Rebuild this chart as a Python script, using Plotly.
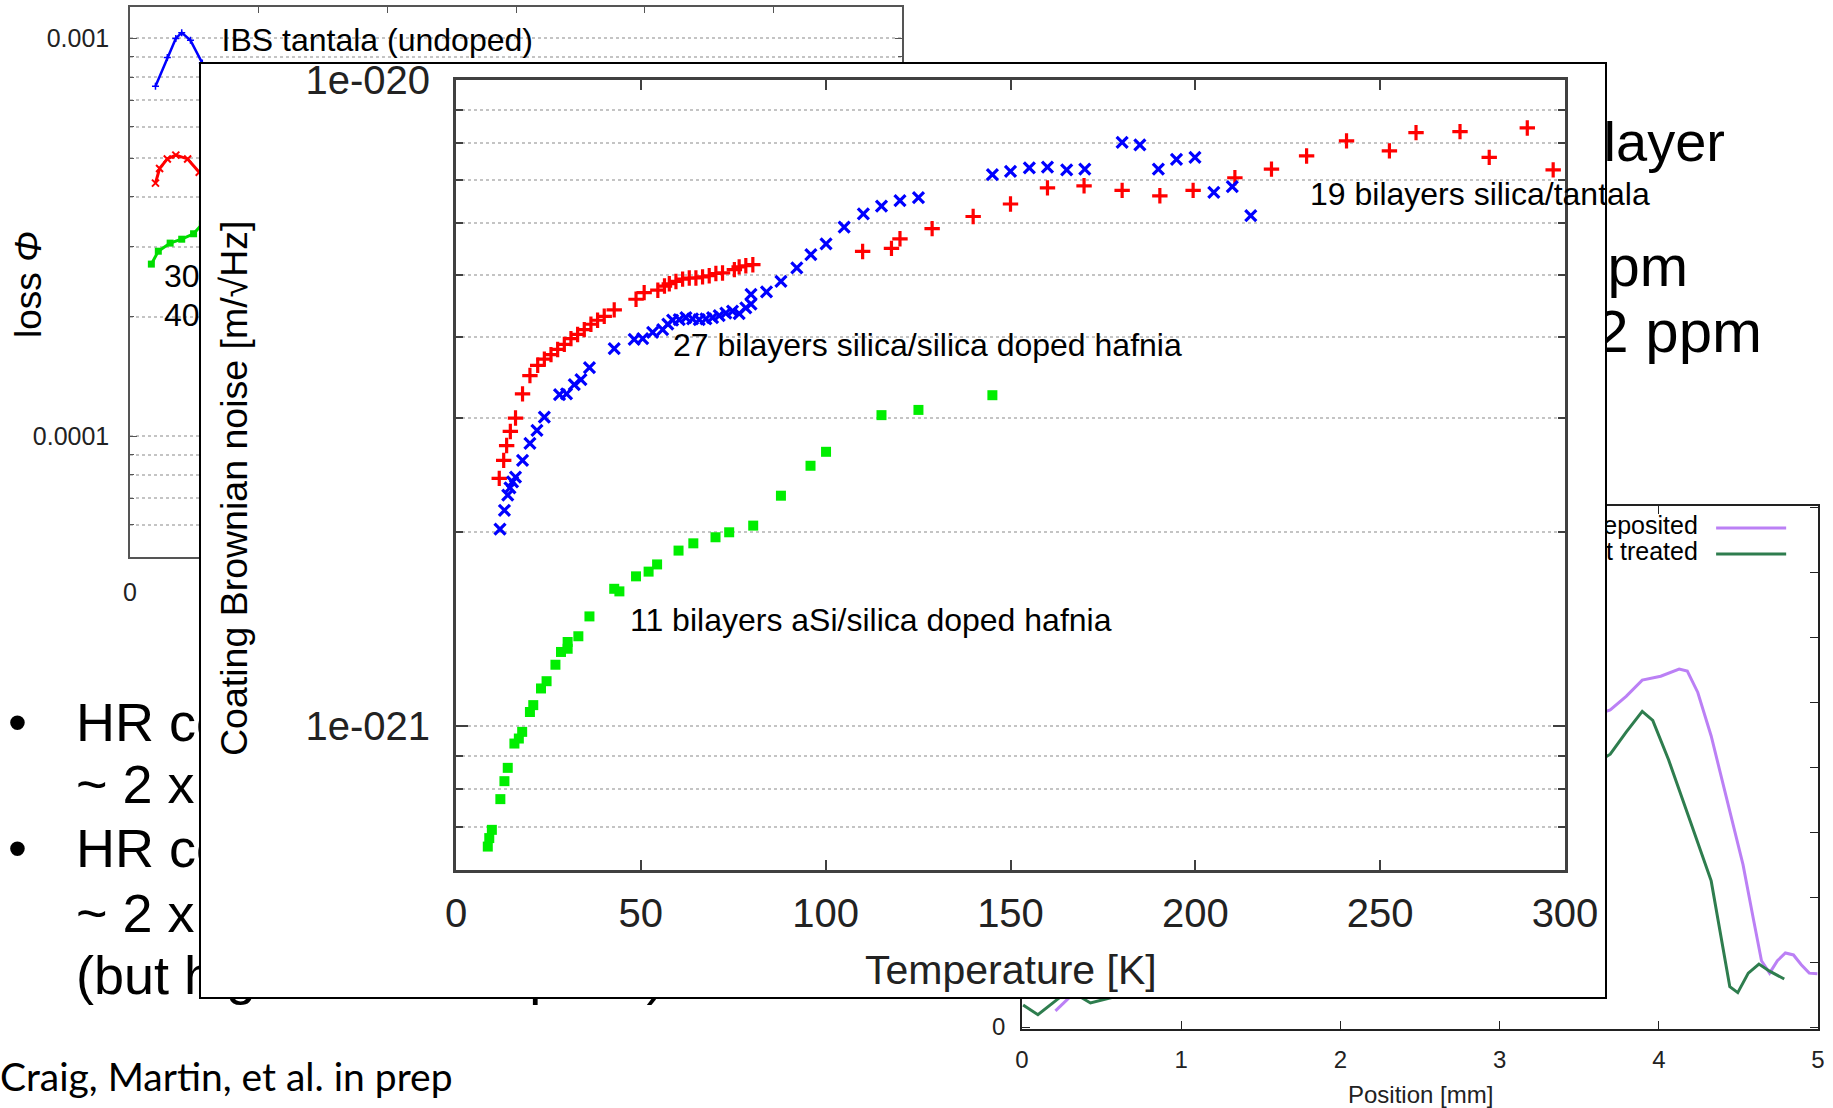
import plotly.graph_objects as go

W, H = 1833, 1108

# ---------------------------------------------------------------------------
# Coating Brownian noise vs temperature (values in units of 1e-21 m/sqrt(Hz))
# ---------------------------------------------------------------------------
temp_ta = [11.7, 12.9, 13.7, 14.7, 16.1, 18.0, 20.0, 22.1, 23.9, 25.7, 27.5, 29.3,
           31.1, 32.9, 34.7, 36.5, 38.3, 40.1, 42.8, 48.7, 50.9, 54.6, 56.4, 57.7,
           59.5, 61.3, 63.1, 64.9, 66.7, 68.5, 70.3, 72.1, 75.3, 76.6, 78.4, 80.3,
           110.0, 117.8, 120.1, 128.8, 139.9, 150.0, 160.0, 169.9, 180.2, 190.4,
           199.4, 210.7, 220.6, 230.1, 240.9, 252.5, 259.7, 271.6, 279.5, 289.8, 296.8]
noise_ta = [2.42, 2.58, 2.72, 2.86, 3.00, 3.27, 3.49, 3.62, 3.70, 3.76, 3.83, 3.90,
            3.98, 4.04, 4.11, 4.19, 4.25, 4.31, 4.41, 4.58, 4.69, 4.73, 4.80, 4.84,
            4.88, 4.92, 4.94, 4.94, 4.96, 4.98, 5.02, 5.03, 5.09, 5.14, 5.16, 5.18,
            5.43, 5.49, 5.68, 5.89, 6.15, 6.43, 6.81, 6.86, 6.75, 6.62,
            6.75, 7.06, 7.28, 7.63, 8.05, 7.77, 8.29, 8.32, 7.59, 8.43, 7.26]

temp_hf = [11.9, 13.1, 14.0, 14.6, 15.3, 16.1, 18.0, 20.0, 21.9, 23.9, 28.0, 29.9,
           32.0, 33.8, 36.1, 42.8, 48.2, 50.5, 53.2, 55.9, 57.3, 58.6, 60.4, 62.2,
           64.0, 65.8, 67.6, 69.4, 71.2, 73.0, 74.8, 76.6, 78.4, 79.8, 79.8, 84.0,
           87.9, 92.2, 96.0, 100.1, 105.0, 110.2, 115.1, 120.1, 125.1, 145.1, 150.0,
           155.1, 160.0, 165.2, 170.1, 180.2, 185.0, 190.0, 194.9, 199.9, 205.0,
           210.0, 215.0]
noise_hf = [2.02, 2.16, 2.28, 2.34, 2.39, 2.43, 2.58, 2.74, 2.87, 3.01, 3.26, 3.27,
            3.38, 3.44, 3.59, 3.84, 3.97, 3.98, 4.07, 4.11, 4.19, 4.25, 4.26, 4.29,
            4.27, 4.26, 4.27, 4.29, 4.32, 4.36, 4.39, 4.35, 4.44, 4.50, 4.66, 4.70,
            4.88, 5.12, 5.37, 5.58, 5.92, 6.21, 6.38, 6.51, 6.58, 7.14, 7.22,
            7.31, 7.33, 7.26, 7.28, 8.01, 7.94, 7.28, 7.54, 7.59, 6.70,
            6.84, 6.17]

temp_asi = [8.6, 9.0, 9.7, 12.0, 13.1, 14.0, 15.8, 17.0, 17.9, 20.0, 20.9, 23.0,
            24.5, 26.9, 28.4, 30.2, 30.2, 33.1, 36.1, 42.8, 44.2, 48.7, 52.1, 54.4,
            60.2, 64.2, 70.2, 73.9, 80.4, 87.9, 95.9, 100.1, 115.1, 125.1, 145.1]
noise_asi = [0.652, 0.672, 0.692, 0.772, 0.823, 0.863, 0.941, 0.958, 0.981, 1.053,
             1.079, 1.145, 1.175, 1.246, 1.304, 1.319, 1.351, 1.379, 1.480, 1.633,
             1.618, 1.707, 1.736, 1.781, 1.871, 1.920, 1.962, 1.997, 2.045, 2.275,
             2.531, 2.660, 3.031, 3.088, 3.254]

temp_ticks = [0, 50, 100, 150, 200, 250, 300]
noise_tickvals = [1e-21, 1e-20]
noise_ticktext = ["1e-021", "1e-020"]

# ---------------------------------------------------------------------------
# Mechanical loss of single layers (figure at the top left of the slide)
# ---------------------------------------------------------------------------
loss_temp_ibs = [9.9, 14.5, 17.8, 20.1, 23.5, 28.1]
loss_ibs = [7.58e-4, 8.95e-4, 1.00e-3, 1.034e-3, 9.89e-4, 8.67e-4]
loss_temp_red = [9.9, 11.5, 14.5, 17.8, 22.4, 26.9]
loss_red = [4.33e-4, 4.71e-4, 4.98e-4, 5.09e-4, 4.98e-4, 4.61e-4]
loss_temp_green = [8.3, 11.0, 15.6, 20.1, 24.7, 28.1]
loss_green = [2.71e-4, 2.92e-4, 3.06e-4, 3.13e-4, 3.23e-4, 3.42e-4]

# ---------------------------------------------------------------------------
# Line scans vs position (figure at the bottom right of the slide)
# ---------------------------------------------------------------------------
pos_dep = [0.21, 0.30, None,
           3.656, 3.695, 3.795, 3.896, 4.012, 4.128, 4.179, 4.245, 4.329, 4.429,
           4.529, 4.596, 4.645, 4.696, 4.745, 4.795, 4.846, 4.895, 4.945, 4.996]
scan_dep = [0.25, 0.46, None,
            4.85, 4.88, 5.09, 5.34, 5.40, 5.51, 5.48, 5.15, 4.48, 3.49,
            2.50, 1.64, 1.02, 0.83, 1.02, 1.14, 1.11, 0.96, 0.83, 0.82]
pos_heat = [0.007, 0.10, 0.24, None, 0.37, 0.43, 0.62, None,
            3.656, 3.695, 3.795, 3.896, 3.962, 4.062, 4.196, 4.329, 4.446, 4.496,
            4.562, 4.629, 4.696, 4.788]
scan_heat = [0.34, 0.19, 0.46, None, 0.46, 0.37, 0.49, None,
             4.14, 4.20, 4.54, 4.86, 4.72, 4.11, 3.18, 2.25, 0.62, 0.53,
             0.83, 0.97, 0.86, 0.74]

FONT = "Liberation Sans, Arial, sans-serif"
BODY = "Lato, Carlito, Calibri, sans-serif"

RED, BLUE, GREEN = "#ff0000", "#0000ff", "#00ee00"
VIOLET, SEA = "#bb80f5", "#2e7d4e"


def dom_x(left, right):
    return [left / W, right / W]


def dom_y(top, bottom):
    return [1 - bottom / H, 1 - top / H]


fig = go.Figure()

# ---- slide text (drawn on a full-page canvas so the inset covers it) ----
slide_text = [
    ("•", 8, 727, "middle right", 54, FONT),
    ("HR coating", 76, 727, "middle right", 54, FONT),
    ("~ 2 x", 76, 789, "middle right", 54, FONT),
    ("•", 8, 853, "middle right", 54, FONT),
    ("HR coating", 76, 853, "middle right", 54, FONT),
    ("~ 2 x", 76, 918, "middle right", 54, FONT),
    ("(but high aSi absorption)", 76, 980, "middle right", 54, FONT),
    ("Craig, Martin, et al. in prep", 0, 1081, "middle right", 39, BODY),
    ("bilayer", 1560, 147, "middle right", 56, FONT),
    ("ppm", 1688, 271, "middle left", 58, FONT),
    ("22 ppm", 1762, 337, "middle left", 60, FONT),
]
for txt, x, y, pos, size, fam in slide_text:
    fig.add_trace(go.Scatter(
        x=[x], y=[y], mode="text", text=[txt], textposition=pos,
        textfont=dict(family=fam, size=size, color="black"),
        cliponaxis=False, hoverinfo="skip", showlegend=False,
        xaxis="x", yaxis="y"))

# ---- loss figure ----
fig.add_trace(go.Scatter(
    x=loss_temp_ibs, y=loss_ibs, mode="lines+markers",
    line=dict(color=BLUE, width=2.5),
    marker=dict(symbol="cross-thin-open", size=5, color=BLUE, line=dict(color=BLUE, width=1.5)),
    showlegend=False, xaxis="x2", yaxis="y2"))
fig.add_trace(go.Scatter(
    x=loss_temp_red, y=loss_red, mode="lines+markers",
    line=dict(color=RED, width=3),
    marker=dict(symbol="x-thin-open", size=7, color=RED, line=dict(color=RED, width=2)),
    showlegend=False, xaxis="x2", yaxis="y2"))
fig.add_trace(go.Scatter(
    x=loss_temp_green, y=loss_green, mode="lines+markers",
    line=dict(color="#00dd00", width=3),
    marker=dict(symbol="square", size=7, color="#00dd00"),
    showlegend=False, xaxis="x2", yaxis="y2"))
fig.add_trace(go.Scatter(
    x=[35.6, 13.2, 13.2], y=[9.73e-4, 2.485e-4, 1.983e-4], mode="text",
    text=["IBS tantala (undoped)", "300", "400"], textposition="middle right",
    textfont=dict(family=FONT, size=32, color="black"),
    cliponaxis=False, hoverinfo="skip", showlegend=False, xaxis="x2", yaxis="y2"))

# ---- position scan figure ----
fig.add_trace(go.Scatter(
    x=pos_dep, y=scan_dep, mode="lines", line=dict(color=VIOLET, width=3),
    showlegend=False, connectgaps=False, xaxis="x3", yaxis="y3"))
fig.add_trace(go.Scatter(
    x=pos_heat, y=scan_heat, mode="lines", line=dict(color=SEA, width=3),
    showlegend=False, connectgaps=False, xaxis="x3", yaxis="y3"))
fig.add_trace(go.Scatter(
    x=[4.245, 4.245], y=[7.68, 7.28], mode="text",
    text=["As deposited", "Heat treated"], textposition="middle left",
    textfont=dict(family=FONT, size=25, color="black"),
    cliponaxis=False, hoverinfo="skip", showlegend=False, xaxis="x3", yaxis="y3"))
fig.add_shape(type="line", xref="x3", yref="y3", x0=4.36, x1=4.80, y0=7.68, y1=7.68,
              line=dict(color=VIOLET, width=3), layer="above")
fig.add_shape(type="line", xref="x3", yref="y3", x0=4.36, x1=4.80, y0=7.28, y1=7.28,
              line=dict(color=SEA, width=3), layer="above")

# ---- white inset panel ----
fig.add_trace(go.Scatter(
    x=[-1, 2, 2, -1, -1], y=[-1, -1, 2, 2, -1], mode="lines", fill="toself",
    fillcolor="white", line=dict(width=0, color="white"),
    hoverinfo="skip", showlegend=False, xaxis="x4", yaxis="y4"))

# ---- main inset: coating Brownian noise ----
fig.add_trace(go.Scatter(
    x=temp_ta, y=[v * 1e-21 for v in noise_ta], mode="markers",
    marker=dict(symbol="cross-thin-open", size=11, color=RED, line=dict(color=RED, width=3.2)),
    name="19 bilayers silica/tantala", showlegend=False, xaxis="x5", yaxis="y5"))
fig.add_trace(go.Scatter(
    x=temp_hf, y=[v * 1e-21 for v in noise_hf], mode="markers",
    marker=dict(symbol="x-thin-open", size=11, color=BLUE, line=dict(color=BLUE, width=3.2)),
    name="27 bilayers silica/silica doped hafnia", showlegend=False, xaxis="x5", yaxis="y5"))
fig.add_trace(go.Scatter(
    x=temp_asi, y=[v * 1e-21 for v in noise_asi], mode="markers",
    marker=dict(symbol="square", size=10, color=GREEN, line=dict(width=0)),
    name="11 bilayers aSi/silica doped hafnia", showlegend=False, xaxis="x5", yaxis="y5"))

grid_col = "#c4c4c4"

layout = dict(
    width=W, height=H, margin=dict(l=0, r=0, t=0, b=0, pad=0, autoexpand=False),
    paper_bgcolor="white", plot_bgcolor="rgba(0,0,0,0)", showlegend=False,
    font=dict(family=FONT, color="black"),
    xaxis=dict(domain=[0, 1], range=[0, W], visible=False, fixedrange=True, automargin=False),
    yaxis=dict(domain=[0, 1], range=[H, 0], visible=False, fixedrange=True, automargin=False),
    # loss figure
    xaxis2=dict(domain=dom_x(130, 902), anchor="y2", range=[0, 300], automargin=False,
                tickvals=temp_ticks, ticks="inside", ticklen=6, tickcolor="#555",
                showline=True, mirror="ticks", linecolor="#555", linewidth=1.5,
                showgrid=False, zeroline=False, tickfont=dict(size=25, color="#222"),
                ticklabelstandoff=12),
    yaxis2=dict(domain=dom_y(7, 557), anchor="x2", type="log", range=[-4.303, -2.921],
                automargin=False,
                tickvals=[1e-4, 1e-3], ticktext=["0.0001", "0.001"],
                ticks="inside", ticklen=7, tickcolor="#555",
                minor=dict(dtick="D1", ticks="inside", ticklen=4, tickcolor="#555",
                           showgrid=True, gridcolor=grid_col, griddash="dot", gridwidth=1.5),
                showgrid=True, gridcolor=grid_col, griddash="dot", gridwidth=1.5,
                showline=True, mirror="ticks", linecolor="#555", linewidth=1.5,
                zeroline=False, tickfont=dict(size=25, color="#222"),
                ticklabelstandoff=14),
    # position scan figure
    xaxis3=dict(domain=dom_x(1022, 1818), anchor="y3", range=[0, 5], dtick=1,
                automargin=False,
                ticks="inside", ticklen=8, tickcolor="#222",
                showline=True, mirror="ticks", linecolor="#222", linewidth=1.5,
                showgrid=False, zeroline=False, tickfont=dict(size=24, color="#222"),
                ticklabelstandoff=8),
    yaxis3=dict(domain=dom_y(506, 1029), anchor="x3", range=[-0.03, 8.02], dtick=1,
                automargin=False,
                ticks="inside", ticklen=8, tickcolor="#222",
                showline=True, mirror="ticks", linecolor="#222", linewidth=1.5,
                showgrid=False, zeroline=False, tickfont=dict(size=24, color="#222"),
                ticklabelstandoff=10),
    # inset panel
    xaxis4=dict(domain=dom_x(201, 1605), anchor="y4", range=[0, 1], showline=True,
                mirror=True, linecolor="black", linewidth=2, ticks="", automargin=False,
                showticklabels=False, showgrid=False, zeroline=False, fixedrange=True),
    yaxis4=dict(domain=dom_y(64, 997), anchor="x4", range=[0, 1], showline=True,
                mirror=True, linecolor="black", linewidth=2, ticks="", automargin=False,
                showticklabels=False, showgrid=False, zeroline=False, fixedrange=True),
    # main noise plot
    xaxis5=dict(domain=dom_x(456, 1565), anchor="y5", range=[0, 300], automargin=False,
                tickvals=temp_ticks, ticks="inside", ticklen=10, tickwidth=2,
                tickcolor="#404040", showline=True, mirror="ticks",
                linecolor="#404040", linewidth=3, showgrid=False, zeroline=False,
                tickfont=dict(size=40, color="#222"), ticklabelstandoff=6),
    yaxis5=dict(domain=dom_y(80, 870), anchor="x5", type="log", range=[-21.222, -20.0],
                automargin=False,
                tickvals=noise_tickvals, ticktext=noise_ticktext,
                ticks="inside", ticklen=12, tickwidth=2, tickcolor="#404040",
                minor=dict(dtick="D1", ticks="inside", ticklen=7, tickwidth=2,
                           tickcolor="#404040", showgrid=True, gridcolor=grid_col,
                           griddash="dot", gridwidth=2),
                showgrid=True, gridcolor=grid_col, griddash="dot", gridwidth=2,
                showline=True, mirror="ticks", linecolor="#404040", linewidth=3,
                zeroline=False, tickfont=dict(size=40, color="#222"),
                ticklabelstandoff=15),
)
fig.update_layout(**layout)

annotations = [
    # main inset labels
    dict(x=230.5, y=-20.176, xref="x5", yref="y5", text="19 bilayers silica/tantala",
         xanchor="left", yanchor="middle", showarrow=False, font=dict(size=32)),
    dict(x=58.2, y=-20.4105, xref="x5", yref="y5",
         text="27 bilayers silica/silica doped hafnia",
         xanchor="left", yanchor="middle", showarrow=False, font=dict(size=32)),
    dict(x=46.5, y=-20.835, xref="x5", yref="y5",
         text="11 bilayers aSi/silica doped hafnia",
         xanchor="left", yanchor="middle", showarrow=False, font=dict(size=32)),
    # axis titles
    dict(x=1011 / W, y=1 - 970 / H, xref="paper", yref="paper", text="Temperature [K]",
         xanchor="center", yanchor="middle", showarrow=False,
         font=dict(size=41, color="#222")),
    dict(x=234 / W, y=1 - 488 / H, xref="paper", yref="paper",
         text="Coating Brownian noise [m/√Hz]", textangle=-90,
         xanchor="center", yanchor="middle", showarrow=False, font=dict(size=37.5)),
    dict(x=28 / W, y=1 - 285 / H, xref="paper", yref="paper", text="loss <i>Φ</i>",
         textangle=-90, xanchor="center", yanchor="middle", showarrow=False,
         font=dict(size=37)),
    dict(x=1420 / W, y=1 - 1094 / H, xref="paper", yref="paper", text="Position [mm]",
         xanchor="center", yanchor="middle", showarrow=False,
         font=dict(size=24, color="#222")),
]
fig.update_layout(annotations=annotations)

fig.write_html("out.html")
